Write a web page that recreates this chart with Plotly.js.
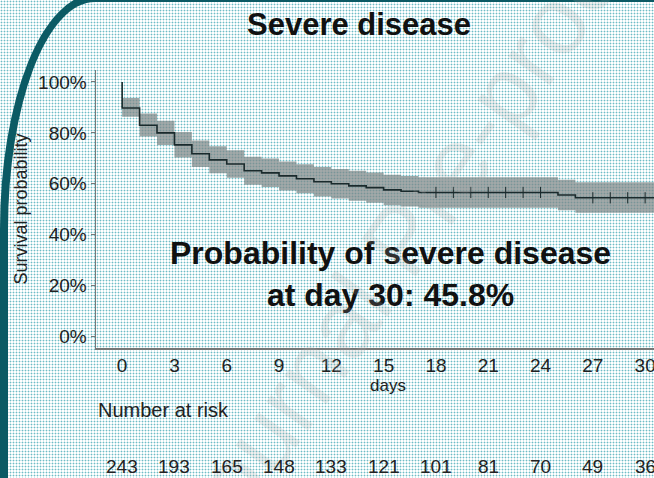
<!DOCTYPE html>
<html><head><meta charset="utf-8">
<script src="https://cdn.plot.ly/plotly-3.0.1.min.js"></script>
<style>
html,body{margin:0;padding:0;width:654px;height:478px;overflow:hidden;}
body{background-color:#ffffff;background-image:radial-gradient(circle,#6fbcc6 0.8px,transparent 1.1px);background-size:3px 3px;position:relative;}
#frame{position:absolute;left:0;top:-6px;width:900px;height:700px;border-left:8px solid #0b5a64;border-top:8px solid #0b5a64;border-top-left-radius:95px 235px;box-sizing:border-box;}
#plot{position:absolute;left:0;top:0;width:680px;height:478px;}
</style></head><body>
<div id="frame"></div>
<div id="plot"></div>
<script>
const days  = [0,1,2,3,4,5,6,7,8,9,10,11,12,13,14,15,16,17,18,19,20,21,22,23,24,25,26,27,28,29,30];
const surv  = [89.8,83,80,75.3,71.8,69.4,67.8,65.1,64.3,63.1,62,60.8,60,59.2,58.5,57.6,57.1,56.6,56.6,56.6,56.6,56.6,56.6,56.6,56.6,55.6,54.5,54.5,54.5,54.5,54.5];
const lower = [86.3,78.6,75.2,70.3,66.6,64.1,62.4,59.6,58.7,57.4,56.3,55,54.2,53.3,52.6,51.6,51.1,50.6,50.6,50.6,50.6,50.6,50.6,50.6,50.6,49.6,48.6,48.6,48.6,48.6,48.6];
const upper = [93.7,87.6,84.8,80.3,77,74.7,73.2,70.6,69.9,68.8,67.7,66.6,65.8,65.1,64.4,63.6,63.1,62.6,62.6,62.6,62.6,62.6,62.6,62.6,62.6,61.6,60.6,60.6,60.6,60.6,60.6];
const censorDays = [18,19,20,21,22,23,24,27,28,29,30];
const censorVals = [56.6,56.6,56.6,56.6,56.6,56.6,56.6,54.5,54.5,54.5,54.5];
const tickDays = [0,3,6,9,12,15,18,21,24,27,30];
const atRisk = [243,193,165,148,133,121,101,81,70,49,36];

const lineX=[0], lineY=[100];
days.forEach((d,i)=>{lineX.push(d);lineY.push(surv[i]);});
const ext = ()=>days.concat([31.5]);
const font = {family:'Liberation Sans, Arial, sans-serif', color:'#222'};
const traces=[
 {x:ext(),y:lower.concat([lower[lower.length-1]]),mode:'lines',line:{shape:'hv',width:0},hoverinfo:'skip',showlegend:false},
 {x:ext(),y:upper.concat([upper[upper.length-1]]),mode:'lines',line:{shape:'hv',width:0},fill:'tonexty',fillcolor:'rgba(125,135,135,0.72)',hoverinfo:'skip',showlegend:false},
 {x:lineX.concat([31.5]),y:lineY.concat([surv[surv.length-1]]),mode:'lines',line:{shape:'hv',width:1.6,color:'#1a2a2c'},showlegend:false},
 {x:censorDays,y:censorVals,mode:'markers',marker:{symbol:'line-ns',size:8,line:{width:1,color:'#1a2a2c'}},showlegend:false}
];
const ann=[
 {text:'<b>Severe disease</b>',xref:'x',yref:'paper',x:13.6,y:1.235,showarrow:false,font:{...font,size:31,color:'#111'}},
 {text:'<b>Probability of severe disease<br>at day 30: 45.8%</b>',xref:'x',yref:'y',x:15.4,y:24.7,showarrow:false,font:{...font,size:32,color:'#111'}},
 {text:'Number at risk',xref:'x',yref:'paper',x:-1.5,y:-0.27,xanchor:'left',showarrow:false,font:{...font,size:20}},
 {text:'Journal Pre-proof',xref:'x',yref:'y',x:16,y:38,textangle:-55,showarrow:false,font:{family:'Liberation Sans, Arial, sans-serif',size:96,color:'rgba(170,170,170,0.2)'}}
];
tickDays.forEach((d,i)=>ann.push({text:String(atRisk[i]),xref:'x',yref:'paper',x:d,y:-0.47,showarrow:false,font:{...font,size:19}}));
const layout={
 width:680,height:478,margin:{l:96,r:0,t:70,b:130},
 paper_bgcolor:'rgba(0,0,0,0)',plot_bgcolor:'rgba(0,0,0,0)',
 xaxis:{range:[-1.5,32],tickvals:tickDays,ticks:'',showgrid:false,zeroline:false,showline:true,linecolor:'#777',linewidth:1.5,
   tickfont:{...font,size:19},title:{text:'days',font:{...font,size:17},standoff:0}},
 yaxis:{range:[-4.5,104.7],tickvals:[0,20,40,60,80,100],ticktext:['0%','20%','40%','60%','80%','100%'],ticks:'outside',ticklen:4,tickcolor:'#777',
   showgrid:false,zeroline:false,showline:true,linecolor:'#777',linewidth:1.5,tickfont:{...font,size:19},
   title:{text:'Survival probability',font:{...font,size:18},standoff:6}},
 annotations:ann
};
Plotly.newPlot('plot',traces,layout,{staticPlot:true});
</script></body></html>
